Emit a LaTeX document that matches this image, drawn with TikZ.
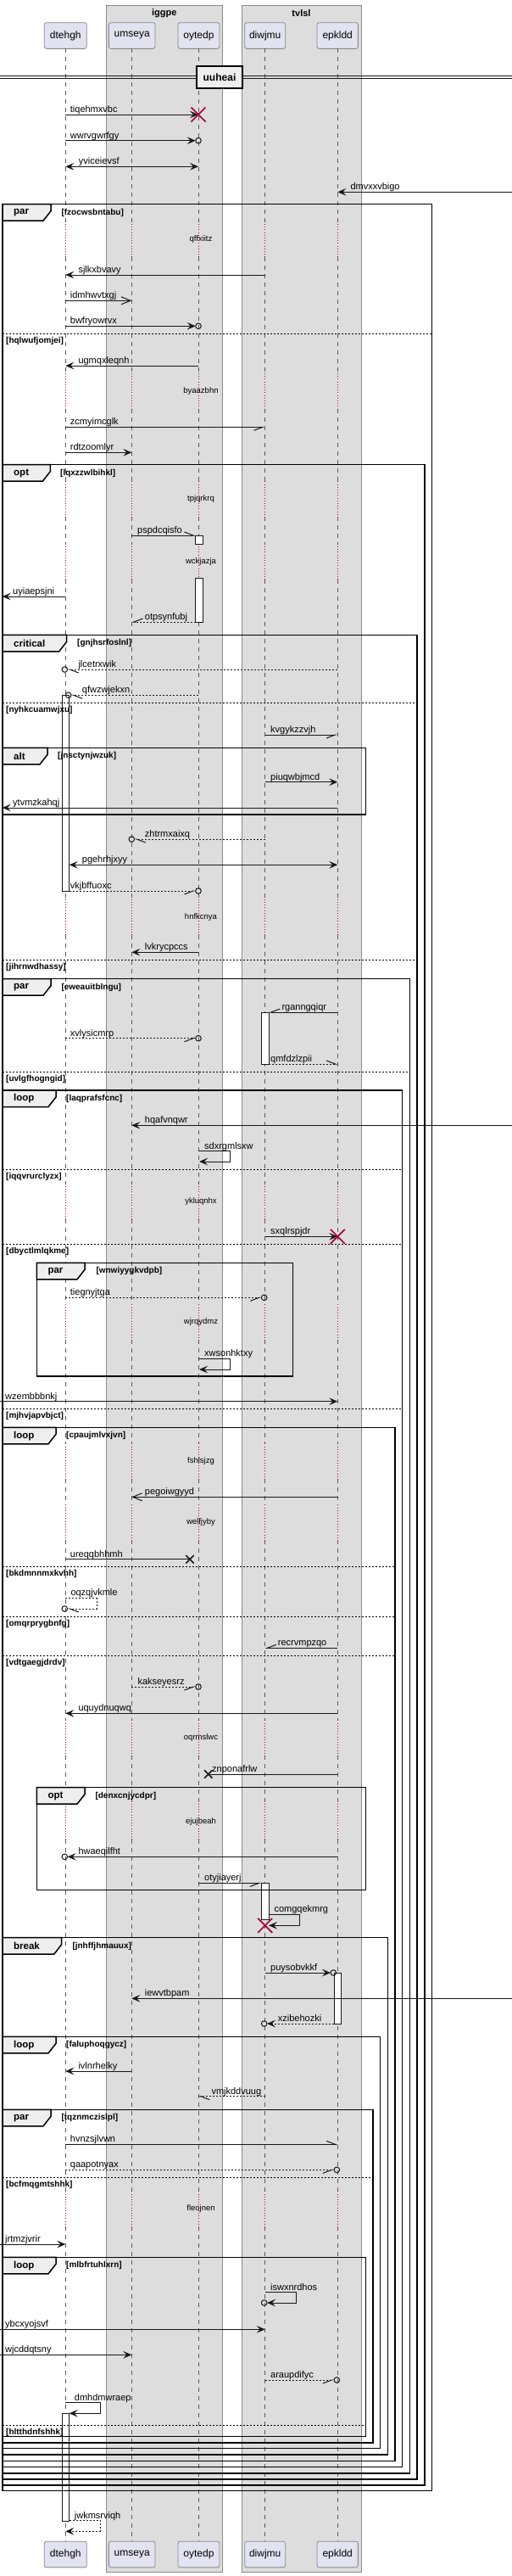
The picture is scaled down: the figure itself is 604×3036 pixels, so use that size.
\documentclass[tikz,border=0pt]{standalone}
\usepackage{fontspec}
\setmainfont{Liberation Sans}
\usetikzlibrary{arrows.meta}
\definecolor{ln}{HTML}{181818}
\definecolor{grpbg}{HTML}{DDDDDD}
\definecolor{grpbd}{HTML}{8A8A8A}
\definecolor{partbg}{HTML}{E2E2F0}
\definecolor{tabbg}{HTML}{EEEEEE}
\definecolor{xred}{HTML}{A80036}
\definecolor{life}{HTML}{5A5A5A}
\def\lxa{77.3}
\def\lxb{155.3}
\def\lxc{234}
\def\lxd{312.7}
\def\lxe{398.3}
\newcommand\Msg[7]{\coordinate (#1a) at (#2,#4); \coordinate (#1b) at (#3,#4);
  \draw[#5] (#1a) -- (#1b); \node[msg] (#1t) at (#6,#4-2.5) {#7};}
\newcommand\Self[9]{\coordinate (#1a) at (#2,#3); \coordinate (#1r) at (#4,#3);
  \coordinate (#1q) at (#4,#5); \coordinate (#1b) at (#6,#5);
  \draw[#7] (#1a) -- (#1r) -- (#1q) -- (#1b); \node[msg] (#1t) at (#8,#3-2.5) {#9};}
\newcommand\Circ[2]{\draw[circ] (#1,#2) circle[radius=3.3];}
\newcommand\RX[2]{\draw[rx] (#1-8.5,#2-8.5) -- (#1+8.5,#2+8.5) (#1-8.5,#2+8.5) -- (#1+8.5,#2-8.5);}
\newcommand\BX[2]{\draw[bx] (#1-4.7,#2-4.7) -- (#1+4.7,#2+4.7) (#1-4.7,#2+4.7) -- (#1+4.7,#2-4.7);}
\newcommand\Frame[9]{\draw[frm] (#2,#3) rectangle (#4,#5);
  \draw[tabs] (#2,#3) -- (#6,#3) -- (#6,#3+8) -- (#6-9,#3+19.5) -- (#2,#3+19.5) -- cycle;
  \node[tabl] (#1k) at (#2+13,#3+10) {#7};
  \node[cond] (#1c) at (#8,#3+10) {#9};}
\newcommand\Div[5]{\draw[divl] (#2,#4) -- (#3,#4); \node[cond] (#1) at (#2+4,#4+8.5) {#5};}
\begin{document}
\begin{tikzpicture}[x=1pt,y=-1pt,
  msg/.style={anchor=base west,inner sep=0pt,font=\fontsize{11}{13}\selectfont,text=black},
  dly/.style={anchor=center,inner sep=0pt,font=\fontsize{9.5}{11}\selectfont,text=black},
  cond/.style={anchor=west,inner sep=0pt,font=\bfseries\fontsize{10}{12}\selectfont,text=black},
  tabl/.style={anchor=west,inner sep=0pt,font=\bfseries\fontsize{11.5}{13}\selectfont,text=black},
  part/.style={draw=grpbd,fill=partbg,line width=0.8pt,rounded corners=2.5pt,inner sep=0pt,
    minimum height=30.7pt,font=\fontsize{12}{14}\selectfont},
  grp/.style={draw=grpbd,fill=grpbg,line width=0.9pt},
  gtitle/.style={inner sep=0pt,font=\bfseries\fontsize{11}{13}\selectfont},
  lifel/.style={draw=life,line width=0.8pt,dash pattern=on 5pt off 5pt},
  dlyl/.style={draw=xred,line width=0.8pt,dash pattern=on 0.8pt off 2.4pt},
  sol/.style={draw=ln,line width=1pt},
  dsh/.style={draw=ln,line width=1pt,dash pattern=on 2pt off 2pt},
  fa/.style={-{Stealth[length=10pt,width=8.6pt,inset=4pt]}},
  fab/.style={{Stealth[length=10pt,width=8.6pt,inset=4pt]}-{Stealth[length=10pt,width=8.6pt,inset=4pt]}},
  oa/.style={-{Straight Barb[length=11pt,width=9pt]}},
  hl/.style={-{Straight Barb[length=10.5pt,width=8pt,harpoon]}},
  hr/.style={-{Straight Barb[length=10.5pt,width=8pt,harpoon,swap]}},
  circ/.style={draw=ln,line width=1pt},
  rx/.style={draw=xred,line width=1.6pt},
  bx/.style={draw=ln,line width=1.6pt},
  act/.style={draw=ln,fill=white,line width=0.9pt},
  frm/.style={draw=black,line width=1.5pt},
  tabs/.style={draw=black,fill=tabbg,line width=1.5pt},
  divl/.style={draw=black,line width=0.8pt,dash pattern=on 2pt off 2pt}]
\useasboundingbox (0,0) rectangle (604,3036);
\fill[white] (0,0) rectangle (604,3036);
% groups
\draw[grp] (125,6) rectangle (262.7,3031);
\draw[grp] (285,6) rectangle (426,3031);
\node[gtitle] (g1) at (193.8,15.3) {iggpe};
\node[gtitle] (g2) at (355.5,15.3) {tvlsl};
% participants
\node[part,minimum width=50pt] (pa) at (77.3,42) {dtehgh};
\node[part,minimum width=54.7pt] (pb) at (155.7,42) {umseya};
\node[part,minimum width=49pt] (pc) at (234.5,42) {oytedp};
\node[part,minimum width=48pt] (pd) at (312.7,42) {diwjmu};
\node[part,minimum width=48.3pt] (pe) at (398.2,42) {epkldd};
\node[part,minimum width=50pt] (qa) at (77.3,3010.5) {dtehgh};
\node[part,minimum width=54.7pt] (qb) at (155.7,3010.5) {umseya};
\node[part,minimum width=49pt] (qc) at (234.5,3010.5) {oytedp};
\node[part,minimum width=48pt] (qd) at (312.7,3010.5) {diwjmu};
\node[part,minimum width=48.3pt] (qe) at (398.2,3010.5) {epkldd};
% lifelines
\foreach \x in {\lxa,\lxb,\lxc,\lxd,\lxe}{
  \foreach \a/\b in {57.3/260.7,302.7/440,482/567.3,609.3/640.7,682.7/1059.7,1101.7/1394.7,
     1436.7/1537.3,1579.3/1701.3,1743.3/1773.3,1815.3/2027.3,2069.3/2125.7,2167.7/2582.3,2624.3/2995}
    \draw[lifel] (\x,\a) -- (\x,\b);
  \foreach \c in {281.7,461,588.3,661.7,1080.7,1415.7,1558.3,1722.3,1794.3,2048.3,2146.7,2603.3}
    \draw[dlyl] (\x,\c-21) -- (\x,\c+21);
}
% separator
\draw[draw=ln,line width=0.9pt] (0,89.3) -- (604,89.3) (0,92.7) -- (604,92.7);
\node[draw=black,fill=tabbg,line width=1.5pt,minimum width=54pt,minimum height=26pt,inner sep=0pt,
  font=\bfseries\fontsize{12}{14}\selectfont] (sep) at (259,91) {uuheai};
% activations
\draw[act] (230.7,631) rectangle (239.3,641.7);
\draw[act] (230.7,681.7) rectangle (239.3,733.3);
\draw[act] (73,819.3) rectangle (81.7,1050);
\draw[act] (308.3,1193) rectangle (317,1254);
\draw[act] (308.3,2219.3) rectangle (317,2262.3);
\draw[act] (394,2325) rectangle (402.7,2385);
\draw[act] (73,2844.3) rectangle (81.7,2971);
% frames
\Frame{f1}{3}{240.7}{509.3}{2935.7}{60}{par}{72.3}{[fzocwsbntabu]}
\Div{f1d1}{3}{509.3}{393.3}{[hqlwufjomjei]}
\Frame{f2}{3}{547.7}{501}{2929}{59.3}{opt}{71}{[lqxzzwlbihkl]}
\Frame{f3}{3}{748.3}{492}{2922}{78.7}{critical}{91}{[gnjhsrfoslnl]}
\Div{f3d1}{3}{492}{828.7}{[nyhkcuamwjxu]}
\Div{f3d2}{3}{492}{1131}{[jihrnwdhassy]}
\Frame{fa}{3}{881.3}{431.7}{960}{56}{alt}{68}{[jnsctynjwzuk]}
\Frame{f4}{3}{1153.7}{483.3}{2915}{60}{par}{72.3}{[eweauitblngu]}
\Div{f4d1}{3}{483.3}{1263.7}{[uvlgfhogngid]}
\Frame{f5}{3}{1285}{474.7}{2907.7}{66}{loop}{78}{[laqprafsfcnc]}
\Div{f5d1}{3}{474.7}{1378}{[iqqvrurclyzx]}
\Div{f5d2}{3}{474.7}{1466}{[dbyctlmlqkme]}
\Div{f5d3}{3}{474.7}{1660.3}{[mjhvjapvbjct]}
\Frame{fp}{43.3}{1488.3}{345.7}{1622}{100}{par}{113.3}{[wnwiyygkvdpb]}
\Frame{f6}{3}{1682.3}{466}{2900.3}{66}{loop}{78}{[cpaujmlvxjvn]}
\Div{f6d1}{3}{466}{1846.7}{[bkdmnnmxkvhh]}
\Div{f6d2}{3}{466}{1905.3}{[omqrprygbnfg]}
\Div{f6d3}{3}{466}{1951.3}{[vdtgaegjdrdv]}
\Frame{fo}{43.3}{2106.7}{431.7}{2227.7}{100}{opt}{112.3}{[denxcnjycdpr]}
\Frame{f7}{3}{2283.7}{457.3}{2893}{72.7}{break}{85.3}{[jnhffjhmauux]}
\Frame{f8}{3}{2400.3}{448.7}{2885.7}{66}{loop}{78}{[faluphoqgycz]}
\Frame{f9}{3}{2486.3}{440}{2879}{60}{par}{72.3}{[tqznmczislpl]}
\Div{f9d1}{3}{440}{2566.3}{[bcfmqgmtshhk]}
\Frame{f10}{3}{2660.3}{431.7}{2871.7}{66}{loop}{78}{[mlbfrtuhlxrn]}
\Div{f10d1}{3}{431.7}{2858.3}{[hltthdnfshhk]}
% delays
\node[dly] (d1) at (237,281.7) {qffxiitz};
\node[dly] (d2) at (237,461) {byaazbhn};
\node[dly] (d3) at (237,588.3) {tpjqrkrq};
\node[dly] (d4) at (237,661.7) {wckjazja};
\node[dly] (d5) at (237,1080.7) {hnfkcnya};
\node[dly] (d6) at (237,1415.7) {ykluqnhx};
\node[dly] (d7) at (237,1558.3) {wjrqydmz};
\node[dly] (d8) at (237,1722.3) {fshlsjzg};
\node[dly] (d9) at (237,1794.3) {welfjyby};
\node[dly] (d10) at (237,2048.3) {oqrmslwc};
\node[dly] (d11) at (237,2146.7) {ejujbeah};
\node[dly] (d12) at (237,2603.3) {fleojnen};
% messages
\Msg{m1}{\lxa}{\lxc}{135}{sol,fa}{82.7}{tiqehmxvbc}
\RX{\lxc}{135}
\Msg{m2}{\lxa}{230.7}{165.7}{sol,fa}{82.7}{wwrvgwrfgy}
\Circ{234}{165.7}
\Msg{m3}{\lxa}{\lxc}{196.3}{sol,fab}{92.7}{yviceievsf}
\Msg{m4}{604}{\lxe}{226.3}{sol,fa}{413.3}{dmvxxvbigo}
\Msg{m6}{\lxd}{\lxa}{324}{sol,fa}{92.3}{sjlkxbvavy}
\Msg{m7}{\lxa}{\lxb}{354.3}{sol,oa}{82.7}{idmhwvtxgj}
\Msg{m8}{\lxa}{230.7}{384.3}{sol,fa}{82.7}{bwfryowrvx}
\Circ{234}{384.3}
\Msg{m9}{\lxc}{\lxa}{431}{sol,fa}{92.3}{ugmqxleqnh}
\Msg{m11}{\lxa}{\lxd}{503.3}{sol,hr}{82.7}{zcmyimcglk}
\Msg{m12}{\lxa}{\lxb}{533.3}{sol,fa}{82.7}{rdtzoomlyr}
\Msg{m14}{\lxb}{230.7}{631}{sol,hl}{162}{pspdcqisfo}
\Msg{m16}{\lxa}{2.7}{703}{sol,fa}{15}{uyiaepsjni}
\Msg{m17}{230.7}{\lxb}{733}{dsh,hr}{170.7}{otpsynfubj}
\Msg{m18}{\lxe}{79.6}{789}{dsh,hl}{92.3}{jlcetrxwik}
\Circ{76.3}{789}
\Msg{m19}{\lxc}{84}{819.3}{dsh,hl}{96.7}{qfwzwjekxn}
\Circ{80.7}{819.3}
\Msg{m20}{\lxd}{\lxe}{866}{sol,hr}{319}{kvgykzzvjh}
\Msg{m21}{\lxd}{\lxe}{921.7}{sol,fa}{319}{piuqwbjmcd}
\Msg{m22}{\lxe}{2.7}{952}{sol,fa}{15}{ytvmzkahqj}
\Msg{m23}{\lxd}{158.6}{989}{dsh,hl}{170.7}{zhtrmxaixq}
\Circ{155.3}{989}
\Msg{m24}{81.7}{\lxe}{1019.3}{sol,fab}{96.7}{pgehrhjxyy}
\Msg{m25}{81.7}{230.7}{1050}{dsh,hr}{82.7}{vkjbffuoxc}
\Circ{234}{1050}
\Msg{m27}{\lxc}{\lxb}{1122.3}{sol,fa}{170.7}{lvkrycpccs}
\Msg{m28}{\lxe}{317}{1193}{sol,hr}{332.3}{rganngqiqr}
\Msg{m29}{\lxa}{230.7}{1223.7}{dsh,hr}{82.7}{xvlysicmrp}
\Circ{234}{1223.7}
\Msg{m30}{317}{\lxe}{1254}{dsh,hl}{319}{qmfdzlzpii}
\Msg{m31}{604}{\lxb}{1326.3}{sol,fa}{170.7}{hqafvnqwr}
\Self{m32}{\lxc}{1356.7}{271.3}{1369}{235}{sol,fa}{241}{sdxrgmlsxw}
\Msg{m34}{\lxd}{\lxe}{1457.3}{sol,fa}{319}{sxqlrspjdr}
\RX{\lxe}{1457.3}
\Msg{m35}{\lxa}{308.4}{1529.3}{dsh,hr}{82.7}{tiegnyjtga}
\Circ{311.7}{1529.3}
\Self{m37}{\lxc}{1601}{271.3}{1614}{235}{sol,fa}{241}{xwsonhktxy}
\Msg{m38}{0}{\lxe}{1651.7}{sol,fa}{6}{wzembbbnkj}
\Msg{m40}{\lxe}{\lxb}{1764.3}{sol,oa}{170.7}{pegoiwgyyd}
\Msg{m42}{\lxa}{224}{1837.7}{sol}{82.7}{ureqqbhhmh}
\BX{224}{1837.7}
\Self{m43}{\lxa}{1883.3}{114}{1896}{79.6}{dsh,hl}{83.3}{oqzqjvkmle}
\Circ{76.3}{1896}
\Msg{m44}{\lxe}{\lxd}{1942.3}{sol,hr}{327.7}{recrvmpzqo}
\Msg{m45}{\lxb}{230.7}{1988}{dsh,hr}{162.3}{kakseyesrz}
\Circ{234}{1988}
\Msg{m46}{\lxe}{\lxa}{2019.3}{sol,fa}{92.3}{uquydnuqwq}
\Msg{m48}{\lxe}{245.7}{2091}{sol}{250}{znponafrlw}
\BX{245.7}{2091}
\Msg{m50}{\lxe}{79.6}{2188.3}{sol,fa}{92.3}{hwaeqilfht}
\Circ{76.3}{2188.3}
\Msg{m51}{\lxc}{308.3}{2219.3}{sol,hr}{241}{otyjiayerj}
\Self{m52}{317}{2256}{353.3}{2269.3}{317}{sol,fa}{323.3}{comgqekmrg}
\RX{\lxd}{2269.3}
\Msg{m53}{\lxd}{390}{2325}{sol,fa}{319}{puysobvkkf}
\Circ{393.3}{2325}
\Msg{m54}{604}{\lxb}{2355.3}{sol,fa}{170.7}{iewvtbpam}
\Msg{m55}{394}{315}{2385}{dsh,fa}{327.7}{xzibehozki}
\Circ{311.7}{2385}
\Msg{m56}{\lxb}{\lxa}{2441}{sol,fa}{92.3}{ivlnrhelky}
\Msg{m57}{\lxd}{\lxc}{2470.7}{dsh,hl}{249.3}{vmjkddvuug}
\Msg{m58}{\lxa}{\lxe}{2527.3}{sol,hl}{82.7}{hvnzsjlvwn}
\Msg{m59}{\lxa}{394}{2557.3}{dsh,hr}{82.7}{qaapotnyax}
\Circ{397.3}{2557.3}
\Msg{m61}{0}{\lxa}{2645}{sol,fa}{6}{jrtmzjvrir}
\Self{m62}{\lxd}{2701.7}{349}{2714}{315}{sol,fa}{319}{iswxnrdhos}
\Circ{311.7}{2714}
\Msg{m63}{0}{\lxd}{2745.3}{sol,fa}{6}{ybcxyojsvf}
\Msg{m64}{0}{\lxb}{2775.3}{sol,fa}{6}{wjcddqtsny}
\Msg{m65}{\lxd}{394}{2805}{dsh,hr}{319}{araupdifyc}
\Circ{397.3}{2805}
\Self{m66}{\lxa}{2831.7}{118}{2844.3}{81.7}{sol,fa}{87.7}{dmhdmwraep}
\Self{m67}{81.7}{2970.7}{118}{2983.3}{\lxa}{dsh,fa}{87.7}{jwkmsrviqh}
\end{tikzpicture}
\end{document}
